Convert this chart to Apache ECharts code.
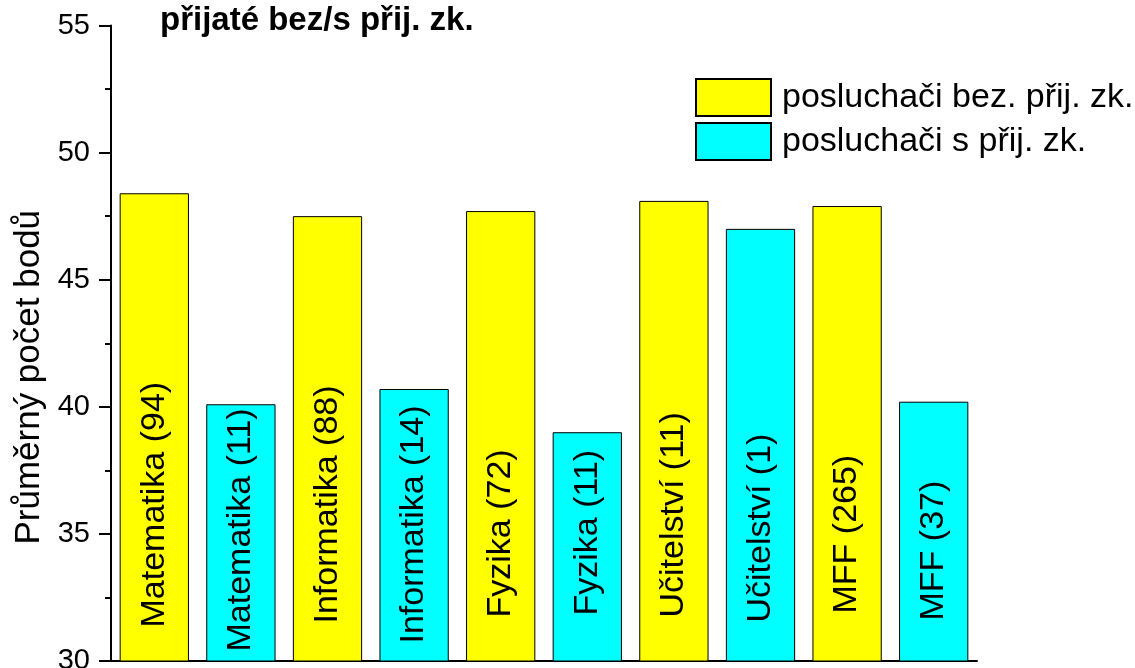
<!DOCTYPE html>
<html>
<head>
<meta charset="utf-8">
<style>
  html, body { margin: 0; padding: 0; background: #fff; }
  #chart { width: 1135px; height: 668px; }
</style>
<script src="https://cdn.jsdelivr.net/npm/echarts@6/dist/echarts.min.js"></script>
</head>
<body>
<div id="chart"></div>
<script>
const categories = [
  'Matematika (94)', 'Matematika (11)', 'Informatika (88)', 'Informatika (14)',
  'Fyzika (72)', 'Fyzika (11)', 'Učitelství (11)', 'Učitelství (1)',
  'MFF (265)', 'MFF (37)'
]
// prumer bodu, '-' = kategorie patri druhe serii
const bezZkousky = [48.4, '-', 47.5, '-', 47.7, '-', 48.1, '-', 47.9, '-']
const sZkouskou = ['-', 40.1, '-', 40.7, '-', 39.0, '-', 47.0, '-', 40.2]
const seriesNames = ['posluchači bez. přij. zk.', 'posluchači s přij. zk.']
const yTicks = { min: 30, max: 55, interval: 5 }

// odsazeni popisku od spodku sloupce (px), v originale neni stejne
const labelLift = [34, 10, 38, 18, 44, 46, 44, 39, 48, 41]

const font = "'Liberation Sans', Arial, sans-serif"

const chart = echarts.init(document.getElementById('chart'))

const barLabel = {
  show: true,
  formatter: '{b}',
  position: 'insideBottom',
  rotate: 90,
  align: 'left',
  verticalAlign: 'middle',
  color: '#000',
  fontFamily: font,
  fontSize: 34
}

function withLabels (values) {
  return values.map((v, i) => ({ value: v, label: { distance: labelLift[i] } }))
}

chart.setOption({
  animation: false,
  title: {
    text: 'přijaté bez/s přij. zk.',
    left: 160,
    top: 0,
    padding: [4, 0, 0, 0],
    textStyle: { fontFamily: font, fontSize: 33, fontWeight: 'bold', color: '#000' }
  },
  legend: {
    orient: 'vertical',
    left: 695,
    top: 78,
    padding: 0,
    itemWidth: 75,
    itemHeight: 37,
    itemGap: 5,
    icon: 'rect',
    textStyle: { fontFamily: font, fontSize: 34, lineHeight: 37, color: '#000', padding: [0, 0, 0, 6] },
    data: seriesNames
  },
  grid: {
    left: 111,
    right: 158,
    top: 25.5,
    bottom: 7,
    outerBoundsMode: 'none'
  },
  xAxis: {
    type: 'category',
    data: categories,
    axisLine: { lineStyle: { color: '#000', width: 2 } },
    axisTick: { show: false },
    axisLabel: { show: false }
  },
  yAxis: {
    type: 'value',
    min: yTicks.min,
    max: yTicks.max,
    interval: yTicks.interval,
    name: 'Průměrný počet bodů',
    nameLocation: 'middle',
    nameGap: 62,
    nameTextStyle: { fontFamily: font, fontSize: 35, color: '#000', padding: [0, 68, 0, 0] },
    axisLine: { show: true, lineStyle: { color: '#000', width: 2 } },
    axisTick: { show: true, length: 12, lineStyle: { color: '#000', width: 2 } },
    minorTick: { show: true, splitNumber: 2, length: 6, lineStyle: { color: '#000', width: 2 } },
    axisLabel: { margin: 21, fontFamily: font, fontSize: 29, color: '#000' },
    splitLine: { show: false }
  },
  series: [
    {
      name: seriesNames[0],
      type: 'bar',
      barWidth: '80%',
      barGap: '-100%',
      data: withLabels(bezZkousky),
      itemStyle: { color: '#ffff00', borderColor: '#000', borderWidth: 1 },
      label: barLabel
    },
    {
      name: seriesNames[1],
      type: 'bar',
      barWidth: '80%',
      data: withLabels(sZkouskou),
      itemStyle: { color: '#00ffff', borderColor: '#000', borderWidth: 1 },
      label: barLabel
    }
  ]
})
</script>
</body>
</html>
